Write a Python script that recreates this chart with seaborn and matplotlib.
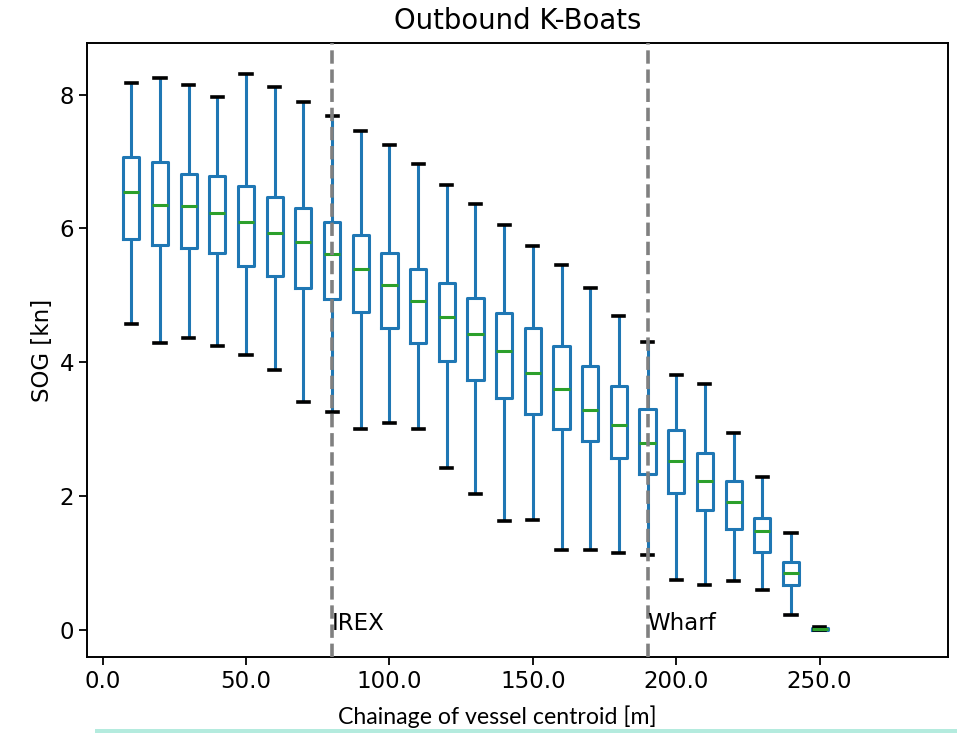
import matplotlib
matplotlib.use("Agg")
import matplotlib.pyplot as plt
from matplotlib.patches import Rectangle
import numpy as np
import pandas as pd
import seaborn as sns

plt.rcParams["font.family"] = ["DejaVu Sans"]

# Chainage bins [m] and SOG summary per bin [kn]
chainage = [10, 20, 30, 40, 50, 60, 70, 80, 90, 100, 110, 120, 130,
            140, 150, 160, 170, 180, 190, 200, 210, 220, 230, 240, 250]
sog_min = [4.57, 4.29, 4.37, 4.24, 4.11, 3.89, 3.41, 3.26, 3.01, 3.10, 3.01, 2.43, 2.03,
           1.63, 1.65, 1.20, 1.20, 1.15, 1.12, 0.75, 0.67, 0.73, 0.60, 0.22, 0.00]
sog_q1 = [5.85, 5.75, 5.71, 5.64, 5.44, 5.29, 5.11, 4.94, 4.76, 4.52, 4.29, 4.02, 3.74,
          3.47, 3.23, 3.00, 2.83, 2.57, 2.34, 2.05, 1.79, 1.51, 1.17, 0.68, 0.01]
sog_med = [6.54, 6.35, 6.33, 6.23, 6.09, 5.94, 5.80, 5.62, 5.40, 5.16, 4.92, 4.68, 4.43,
           4.17, 3.84, 3.60, 3.29, 3.07, 2.79, 2.53, 2.23, 1.91, 1.48, 0.86, 0.02]
sog_q3 = [7.07, 6.99, 6.81, 6.79, 6.64, 6.47, 6.30, 6.10, 5.90, 5.64, 5.40, 5.18, 4.96,
          4.74, 4.51, 4.25, 3.95, 3.65, 3.30, 2.99, 2.64, 2.23, 1.68, 1.02, 0.03]
sog_max = [8.18, 8.25, 8.14, 7.96, 8.31, 8.11, 7.89, 7.68, 7.46, 7.25, 6.96, 6.65, 6.36,
           6.05, 5.74, 5.46, 5.11, 4.70, 4.31, 3.81, 3.68, 2.94, 2.29, 1.45, 0.05]

x_ticks = [0, 50, 100, 150, 200, 250]
x_tick_labels = ["0.0", "50.0", "100.0", "150.0", "200.0", "250.0"]

markers = [(80, "IREX"), (190, "Wharf")]

# Five points per bin reproduce min / Q1 / median / Q3 / max exactly
rows = []
for c, lo, q1, md, q3, hi in zip(chainage, sog_min, sog_q1, sog_med, sog_q3, sog_max):
    for v in (lo, q1, md, q3, hi):
        rows.append({"chainage": c, "sog": v})
df = pd.DataFrame(rows)

fig = plt.figure(figsize=(9.57, 7.33), dpi=100)
ax = fig.add_axes([0.0909, 0.1037, 0.8997, 0.8376])

blue = "#1f77b4"
sns.boxplot(
    data=df, x="chainage", y="sog", native_scale=True, whis=(0, 100),
    width=0.56, fill=False, color=blue, linewidth=2.2, ax=ax,
    medianprops={"color": "#2ca02c", "linewidth": 2.2},
    capprops={"color": "black", "linewidth": 2.6},
    whiskerprops={"color": blue, "linewidth": 2.2},
    boxprops={"color": blue, "linewidth": 2.2},
)

# widen the whisker caps a little around each box centre
for line in ax.lines:
    if matplotlib.colors.to_hex(line.get_color()) == "#000000":
        xs = np.asarray(line.get_xdata(), dtype=float)
        mid = xs.mean()
        line.set_xdata(mid + (xs - mid) * 1.4)

for xpos, name in markers:
    ax.axvline(xpos, color="grey", linestyle="--", linewidth=2.6, zorder=5)
    ax.text(xpos, 0, name, fontsize=16.5, color="black", zorder=6)

ax.set_xlim(-5.5, 294.8)
ax.set_ylim(-0.4, 8.77)
ax.set_xticks(x_ticks)
ax.set_xticklabels(x_tick_labels)
ax.set_yticks([0, 2, 4, 6, 8])
ax.tick_params(axis="both", labelsize=16.5, length=5.8, width=1.3, direction="out")
for s in ax.spines.values():
    s.set_linewidth(1.4)
    s.set_visible(True)

ax.set_title("Outbound K-Boats", fontsize=19.8, pad=10)
ax.set_ylabel("SOG [kn]", fontsize=16.5)
ax.set_xlabel("Chainage of vessel centroid [m]", fontsize=16.7,
              family=["Lato", "DejaVu Sans"], labelpad=9, x=0.476)

fig.patches.append(Rectangle((95 / 957, 0), 1, 4 / 733, transform=fig.transFigure,
                             facecolor="#b4ebde", edgecolor="none"))

fig.savefig("out.png", dpi=100)
